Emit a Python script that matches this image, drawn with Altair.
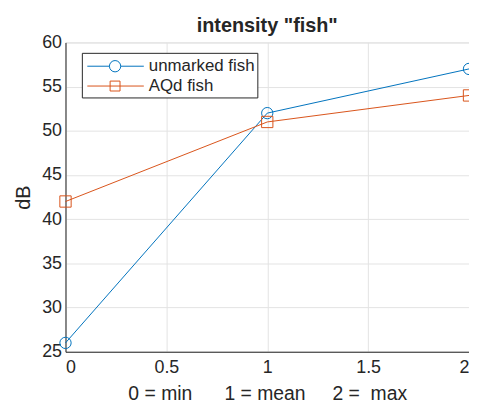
import altair as alt
import pandas as pd

x_vals = [0, 1, 2]
unmarked = [26, 52, 57]
aqd = [42, 51, 54]
series_names = ["unmarked fish", "AQd fish"]
colors = ["#0072BD", "#D95319"]
shapes = ["circle", "square"]

rows = []
for xv, u, a in zip(x_vals, unmarked, aqd):
    rows.append({"x": xv, "dB": u, "series": series_names[0]})
    rows.append({"x": xv, "dB": a, "series": series_names[1]})
df = pd.DataFrame(rows)

FONT = "Liberation Sans"
TXT = "#262626"
xscale = alt.Scale(domain=[0, 2], nice=False, zero=False)
yscale = alt.Scale(domain=[25, 60], nice=False, zero=False)
color = alt.Color("series:N", scale=alt.Scale(domain=series_names, range=colors), legend=None)
shape = alt.Shape("series:N", scale=alt.Scale(domain=series_names, range=shapes), legend=None)

nb = "\u00a0"
xtitle = f"0 = min{nb*6}1 = mean{nb*5}2 ={nb*2}max"

base = alt.Chart(df).encode(
    x=alt.X("x:Q", scale=xscale, title=xtitle,
            axis=alt.Axis(values=[0, 0.5, 1, 1.5, 2], format="~g", labelFontSize=18,
                          titleFontSize=19.5, titleFontWeight="normal", labelPadding=7,
                          titlePadding=8, labelColor=TXT, titleColor=TXT,
                          domainColor=TXT, tickSize=0, gridColor="#e3e3e3",
                          labelFont=FONT, titleFont=FONT)),
    y=alt.Y("dB:Q", scale=yscale, title="dB",
            axis=alt.Axis(values=[25, 30, 35, 40, 45, 50, 55, 60], labelFontSize=18,
                          titleFontSize=20, titleFontWeight="normal", labelPadding=4,
                          titlePadding=8, labelColor=TXT, titleColor=TXT,
                          domainColor=TXT, tickSize=0, gridColor="#e3e3e3",
                          labelFont=FONT, titleFont=FONT)),
    color=color,
)

lines = base.mark_line(strokeWidth=1)
points = base.mark_point(filled=False, size=130, strokeWidth=1, opacity=1).encode(shape=shape)

# legend (decoration)
box = alt.Chart(pd.DataFrame({"a": [0]})).mark_rect(
    fill="white", stroke=TXT, strokeWidth=1
).encode(x=alt.value(17), x2=alt.value(194), y=alt.value(11), y2=alt.value(56))
leg_rule1 = alt.Chart(pd.DataFrame({"series": [series_names[0]]})).mark_rule(strokeWidth=1).encode(
    x=alt.value(22), x2=alt.value(79), y=alt.value(24), color=color)
leg_rule2 = alt.Chart(pd.DataFrame({"series": [series_names[1]]})).mark_rule(strokeWidth=1).encode(
    x=alt.value(22), x2=alt.value(79), y=alt.value(44), color=color)
leg_pt1 = alt.Chart(pd.DataFrame({"series": [series_names[0]]})).mark_point(
    filled=False, size=130, strokeWidth=1, opacity=1, fill="white").encode(
    x=alt.value(50), y=alt.value(24), color=color, shape=shape)
leg_pt2 = alt.Chart(pd.DataFrame({"series": [series_names[1]]})).mark_point(
    filled=False, size=100, strokeWidth=1, opacity=1).encode(
    x=alt.value(50), y=alt.value(44), color=color, shape=shape)
leg_t1 = alt.Chart(pd.DataFrame({"series": [series_names[0]]})).mark_text(
    align="left", baseline="middle", fontSize=17, font=FONT, color=TXT).encode(
    x=alt.value(84), y=alt.value(24), text="series:N")
leg_t2 = alt.Chart(pd.DataFrame({"series": [series_names[1]]})).mark_text(
    align="left", baseline="middle", fontSize=17, font=FONT, color=TXT).encode(
    x=alt.value(84), y=alt.value(44), text="series:N")

chart = alt.layer(
    lines, points, box, leg_rule1, leg_rule2, leg_pt1, leg_pt2, leg_t1, leg_t2
).properties(
    width=407, height=312,
    title=alt.TitleParams('intensity "fish"', fontSize=20, fontWeight="bold", font=FONT,
                          color=TXT, offset=5, dy=7, frame="group"),
    autosize=alt.AutoSizeParams(type="none"),
    padding={"left": 58, "top": 33, "right": 0, "bottom": 52},
).configure_view(stroke=TXT, strokeWidth=1).configure(background="white")

chart.save("out.html", embed_options={"renderer": "svg", "actions": False})
